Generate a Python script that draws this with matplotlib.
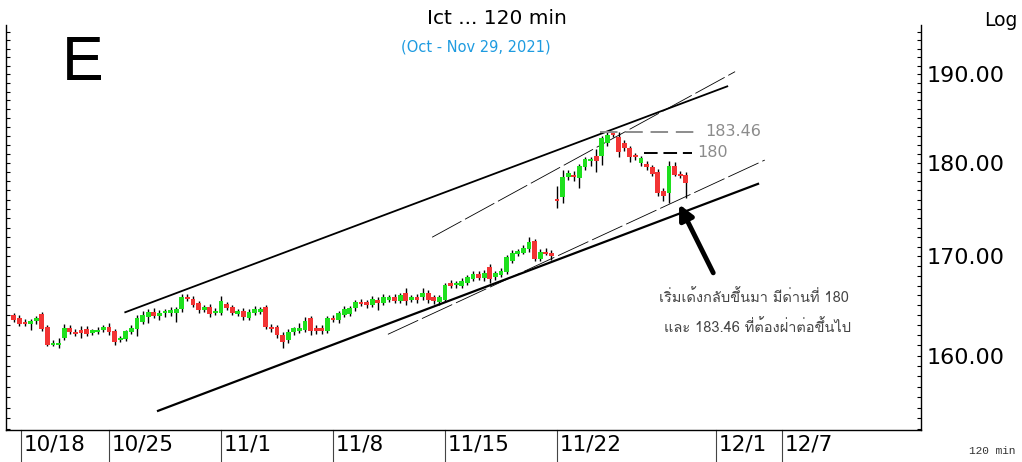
import numpy as np
import matplotlib
matplotlib.use("Agg")
import matplotlib.pyplot as plt
import matplotlib.transforms as mtransforms
from matplotlib import font_manager, ft2font
from matplotlib.ticker import FixedLocator, FuncFormatter, NullFormatter

# 120-min bars, 4 per weekday slot, slot 0 = 10/18
bar_idx = np.arange(3, 124)
opens = [164.0, 163.7, 163.3, 163.1, 163.4, 164.1, 162.8, 161.0, 161.0, 161.7,
         162.7, 162.3, 162.5, 162.6, 162.2, 162.3, 162.5, 162.8, 162.4, 161.5,
         161.6, 162.3, 162.6, 163.3, 163.8, 164.3, 163.9, 164.2, 164.2, 164.2,
         164.6, 165.8, 165.6, 165.2, 164.5, 164.8, 164.2, 164.2, 165.1, 164.8,
         164.1, 164.4, 163.7, 164.2, 164.3, 164.8, 162.8, 162.8, 162.0, 161.5,
         162.3, 162.4, 162.5, 163.7, 162.7, 162.7, 162.4, 163.7, 163.5, 164.0,
         164.1, 164.7, 165.3, 165.3, 165.0, 165.5, 165.2, 165.5, 165.8, 165.4,
         166.2, 165.5, 165.8, 165.8, 166.2, 165.8, 165.3, 165.5, 167.3, 167.1,
         167.0, 167.3, 167.7, 168.2, 167.8, 168.9, 167.9, 168.1, 168.4, 169.5,
         170.3, 170.4, 170.8, 171.6, 169.7, 170.5, 170.4, 176.1, 176.3, 178.4,
         178.7, 178.3, 179.5, 180.2, 180.8, 180.7, 182.2, 183.3, 182.9, 182.2,
         181.6, 180.9, 180.0, 179.9, 179.5, 179.0, 176.9, 176.7, 179.6, 178.8, 178.7]
highs = [164.2, 164.0, 163.6, 163.6, 163.9, 164.3, 163.0, 161.5, 161.7, 163.1,
         163.0, 162.6, 162.9, 162.9, 162.6, 162.8, 163.0, 163.2, 162.6, 161.9,
         162.5, 163.0, 164.0, 164.4, 164.6, 164.7, 164.5, 164.6, 164.8, 164.8,
         166.1, 166.1, 165.9, 165.4, 165.0, 165.1, 164.7, 165.9, 165.3, 165.0,
         164.6, 164.7, 164.6, 164.9, 164.8, 165.0, 163.1, 163.0, 162.3, 162.6,
         162.8, 163.2, 163.8, 163.9, 163.0, 163.0, 163.9, 164.0, 164.4, 164.9,
         164.9, 165.5, 165.6, 165.5, 165.9, 165.8, 166.1, 166.0, 166.1, 166.2,
         166.8, 166.0, 166.1, 166.8, 166.5, 166.0, 166.0, 167.3, 167.6, 167.5,
         167.8, 168.1, 168.5, 168.5, 168.6, 169.2, 168.5, 168.8, 170.1, 170.7,
         170.8, 171.2, 172.0, 171.8, 170.8, 170.9, 170.7, 177.5, 179.2, 179.2,
         179.1, 179.9, 180.6, 180.6, 181.5, 183.0, 183.4, 183.46, 183.4, 182.5,
         181.8, 181.1, 180.8, 180.2, 179.8, 179.3, 177.2, 180.2, 180.1, 179.1, 179.0]
lows = [163.3, 162.9, 162.9, 162.5, 163.1, 162.4, 160.9, 160.9, 160.8, 161.5,
        162.1, 161.9, 161.7, 161.9, 162.0, 162.1, 162.3, 162.0, 161.0, 161.3,
        161.4, 162.1, 161.9, 163.1, 163.2, 163.7, 163.5, 163.8, 163.9, 163.3,
        164.3, 165.4, 164.8, 164.2, 164.3, 163.8, 164.0, 164.0, 164.5, 164.0,
        163.9, 163.5, 163.5, 164.0, 164.1, 162.6, 162.3, 161.7, 160.8, 161.2,
        162.0, 162.2, 162.3, 162.0, 162.1, 162.1, 162.2, 163.3, 163.2, 163.8,
        163.9, 164.4, 164.9, 164.7, 164.8, 164.5, 165.0, 165.3, 165.2, 165.2,
        165.0, 165.3, 165.2, 165.5, 165.2, 165.1, 165.0, 165.3, 166.8, 166.8,
        166.7, 167.1, 167.5, 167.6, 167.5, 167.3, 167.6, 167.9, 168.2, 169.3,
        170.0, 170.2, 170.5, 169.5, 169.5, 170.1, 169.6, 175.1, 175.6, 178.1,
        178.0, 177.3, 179.2, 179.7, 179.0, 179.8, 181.8, 182.9, 180.6, 181.3,
        180.1, 180.3, 179.7, 179.2, 178.5, 176.4, 175.9, 175.6, 178.5, 178.3, 176.2]
closes = [163.5, 163.1, 163.1, 163.4, 163.7, 162.6, 161.0, 161.2, 161.2, 162.7,
          162.3, 162.1, 162.2, 162.1, 162.5, 162.5, 162.8, 162.3, 161.3, 161.7,
          162.4, 162.7, 163.7, 164.0, 164.3, 163.9, 164.2, 164.4, 164.5, 164.6,
          165.8, 165.6, 165.0, 164.5, 164.8, 164.1, 164.4, 165.4, 164.7, 164.2,
          164.4, 163.8, 164.3, 164.6, 164.6, 162.8, 162.6, 162.0, 161.3, 162.3,
          162.7, 162.7, 163.4, 162.4, 162.4, 162.4, 163.7, 163.5, 164.2, 164.6,
          164.7, 165.3, 165.1, 165.0, 165.6, 165.2, 165.8, 165.8, 165.4, 166.0,
          165.4, 165.8, 165.5, 166.2, 165.5, 165.4, 165.8, 167.1, 167.0, 167.2,
          167.5, 167.9, 168.2, 167.8, 168.3, 167.7, 168.3, 168.5, 169.9, 170.4,
          170.6, 170.9, 171.5, 169.7, 170.5, 170.3, 170.0, 175.9, 178.4, 178.9,
          178.4, 179.6, 180.4, 180.4, 180.2, 182.7, 183.1, 183.1, 181.2, 181.6,
          180.6, 180.6, 180.5, 179.5, 178.8, 176.7, 176.4, 179.6, 178.7, 178.6, 177.8]

date_labels = ["10/18", "10/25", "11/1", "11/8", "11/15", "11/22", "12/1", "12/7"]
date_pos = [4.3, 20, 40, 60, 80, 100, 128.4, 140.2]

# trend lines: (start bar, end bar), (start price, end price)
upper_solid = ([22.9, 130.4], [164.3, 188.6])
upper_thin = ([77.7, 131.8], [172.0, 190.3])
lower_solid = ([28.75, 135.9], [154.7, 177.7])
lower_thin = ([69.8, 137.1], [162.1, 180.3])
res_high = 183.46
res_180 = 181.1


def thai_font():
    for f in font_manager.fontManager.ttflist:
        try:
            cmap = ft2font.FT2Font(f.fname).get_charmap()
        except Exception:
            continue
        if 0x0E40 in cmap and 0x0E01 in cmap and 0x0E49 in cmap:
            return f.name
    return "DejaVu Sans"


THAI = thai_font()

fig = plt.figure(figsize=(10.22, 4.62), dpi=100)
ax = fig.add_axes([6 / 1022, 32 / 462, 915 / 1022, 405 / 462])
ax.set_yscale("log")
ax.set_ylim(152.9, 195.8)
ax.set_xlim(1.6, 165.0)

o = np.array(opens)
c = np.array(closes)
up = c >= o
ax.vlines(bar_idx, lows, highs, color="black", lw=1.0, zorder=2)
body_lo = np.minimum(o, c)
body_h = np.maximum(np.abs(c - o), 0.15)
ax.bar(bar_idx, body_h, bottom=body_lo, width=0.85,
       color=np.where(up, "#1ee01e", "#f23434"), linewidth=0, zorder=3)

ax.plot(*upper_solid, color="black", lw=1.3)
ax.plot(*lower_solid, color="black", lw=1.6)
ax.plot(*upper_thin, color="black", lw=0.6, linestyle=(0, (40, 5)))
ax.plot(*lower_thin, color="black", lw=0.6, linestyle=(0, (40, 5)))

ax.plot([107.7, 125.5], [res_high, res_high], color="#8c8c8c", lw=1.4,
        linestyle=(0, (9, 4)))
ax.text(126.4, res_high, "183.46", color="#8c8c8c", fontsize=11.5, va="center")
ax.plot([115.5, 124.1], [res_180, res_180], color="black", lw=1.4,
        linestyle=(0, (7, 3)))
ax.text(125.0, res_180, "180", color="#8c8c8c", fontsize=11.5, va="center")

ax.annotate("", xy=(121.8, 175.5), xytext=(127.9, 168.3),
            arrowprops=dict(arrowstyle="-|>", color="black", lw=3.5,
                            mutation_scale=22, shrinkA=0, shrinkB=0))

# axes styling
ax.spines["top"].set_visible(False)
for s in ["left", "right", "bottom"]:
    ax.spines[s].set_linewidth(1.0)
ax.set_xticks([])
ax.yaxis.set_major_locator(FixedLocator([160, 170, 180, 190]))
ax.yaxis.set_major_formatter(FuncFormatter(lambda v, p: f"{v:.2f}"))
ax.yaxis.set_minor_locator(FixedLocator(np.arange(153, 196)))
ax.yaxis.set_minor_formatter(NullFormatter())
ax.tick_params(axis="y", which="both", direction="in", left=True, right=True,
               labelleft=False, labelright=True, length=3, width=0.8,
               labelsize=16, pad=4)

trans = mtransforms.blended_transform_factory(ax.transData, ax.transAxes)
for lab, pos in zip(date_labels, date_pos):
    ax.plot([pos, pos], [0, -0.08], color="#444444", lw=0.8,
            transform=trans, clip_on=False)
    ax.text(pos + 0.5, -0.037, lab, transform=trans, fontsize=15.5,
            ha="left", va="center")

fig.text(497 / 1022, 1 - 18 / 462, "Ict ... 120 min", ha="center",
         va="center", fontsize=14.5)
fig.text(476 / 1022, 1 - 47 / 462, "(Oct - Nov 29, 2021)", ha="center",
         va="center", fontsize=10.5, color="#1e9be0")
fig.text(62 / 1022, 1 - 64 / 462, "E", ha="left", va="center",
         fontsize=45, family="Liberation Sans")
fig.text(1001 / 1022, 1 - 20 / 462, "Log", ha="center", va="center",
         fontsize=13.5)
fig.text(992 / 1022, 1 - 451 / 462, "120 min", ha="center", va="center",
         fontsize=8, family="Liberation Mono", color="#333333")

fig.text(754 / 1022, 1 - 297 / 462, "เริ่มเด้งกลับขึ้นมา มีด่านที่ 180",
         ha="center", va="center", fontsize=10.5, color="#444444",
         family=[THAI, "DejaVu Sans"])
fig.text(757 / 1022, 1 - 327 / 462, "และ 183.46 ที่ต้องฝ่าต่อขึ้นไป",
         ha="center", va="center", fontsize=10.5, color="#444444",
         family=[THAI, "DejaVu Sans"])

fig.savefig("out.png", dpi=100, facecolor="white")
